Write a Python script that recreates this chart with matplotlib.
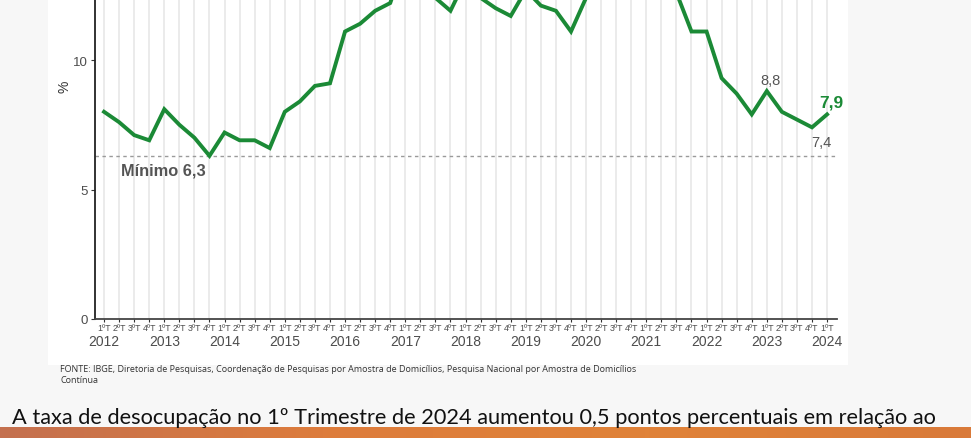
import matplotlib
matplotlib.use("Agg")
import matplotlib.pyplot as plt
import matplotlib.transforms as mtransforms
from matplotlib.colors import LinearSegmentedColormap
import numpy as np

# ---- data ----
years = list(range(2012, 2025))
quarters = ["1ºT", "2ºT", "3ºT", "4ºT"]
rate = [8.0, 7.6, 7.1, 6.9,
        8.1, 7.5, 7.0, 6.3,
        7.2, 6.9, 6.9, 6.6,
        8.0, 8.4, 9.0, 9.1,
        11.1, 11.4, 11.9, 12.2,
        13.9, 13.0, 12.4, 11.9,
        13.1, 12.4, 12.0, 11.7,
        12.7, 12.1, 11.9, 11.1,
        12.4, 13.3, 14.6, 14.2,
        14.9, 14.2, 12.6, 11.1,
        11.1, 9.3, 8.7, 7.9,
        8.8, 8.0, 7.7, 7.4,
        7.9]
yticks = [0, 5, 10]
minimum = 6.3
source = ("FONTE: IBGE, Diretoria de Pesquisas, Coordenação de Pesquisas por Amostra de Domicílios, "
          "Pesquisa Nacional por Amostra de Domicílios\nContínua")
caption = "A taxa de desocupação no 1º Trimestre de 2024 aumentou 0,5 pontos percentuais em relação ao"

n = len(rate)
x = np.arange(n)
qlabels = [quarters[i % 4] for i in range(n)]

W, H = 971, 439
fig = plt.figure(figsize=(W / 100, H / 100), dpi=100)
fig.patch.set_facecolor("#f7f7f7")

# white panel
pax = fig.add_axes([48 / W, (H - 366) / H, 800 / W, 366 / H], zorder=-5)
pax.set_facecolor("white")
pax.set_xticks([]); pax.set_yticks([])
for s in pax.spines.values():
    s.set_visible(False)

# orange strip with gradient
sax = fig.add_axes([0, 0, 1, 11 / H])
sax.axis("off")
grad = np.linspace(0, 1, 256)
cm = LinearSegmentedColormap.from_list("o", ["#c4704f", "#dd7c3c", "#e08238", "#d97a3a"])
sax.imshow(grad[None, :], aspect="auto", cmap=cm, extent=[0, 1, 0, 1])

ymax = 18
bottom_px = 320
px_per = 25.9
top_px = bottom_px - ymax * px_per
ax = fig.add_axes([95 / W, (H - bottom_px) / H, 742 / W, (bottom_px - top_px) / H], zorder=1)
ax.set_facecolor("none")
ax.set_xlim(-0.6, n - 1 + 0.66)
ax.set_ylim(0, ymax)

font = "Liberation Sans"
grey = "#4d4d4d"

for xi in x:
    ax.axvline(xi, color="#e8e8e8", lw=1.2, zorder=1)
ax.axhline(minimum, color="#9a9a9a", lw=1.0, ls=(0, (2.5, 2.5)), zorder=2)
ax.plot(x, rate, color="#1b8a36", lw=2.8, zorder=3, solid_joinstyle="miter")

ax.set_yticks(yticks)
ax.set_yticklabels([str(v) for v in yticks], fontfamily=font, fontsize=9.5, color=grey)
ax.set_xticks(x)
ax.set_xticklabels(qlabels, fontfamily=font, fontsize=6.3, color=grey)
ax.tick_params(axis="x", length=2, pad=1, color="#333333")
ax.tick_params(axis="y", length=3, pad=2, color="#333333")
ax.set_ylabel("%", fontfamily=font, fontsize=10, color="#333333", labelpad=1)

for s in ["top", "right"]:
    ax.spines[s].set_visible(False)
ax.spines["left"].set_linewidth(1.3)
ax.spines["left"].set_color("#222222")
ax.spines["bottom"].set_linewidth(1.3)
ax.spines["bottom"].set_color("#444444")

trans = mtransforms.blended_transform_factory(ax.transData, fig.transFigure)
for i, yr in enumerate(years):
    ax.text(i * 4, (H - 342) / H, str(yr), transform=trans, ha="center", va="center",
            fontfamily=font, fontsize=10, color=grey)

ax.text(1.13, 5.75, "Mínimo 6,3", ha="left", va="center", fontfamily=font,
        fontsize=11.8, fontweight="bold", color="#555555")
ax.text(44.25, 8.8 + 0.42, "8,8", ha="center", va="center", fontfamily=font,
        fontsize=10.5, color="#555555")
ax.text(47.6, 7.4 - 0.57, "7,4", ha="center", va="center", fontfamily=font,
        fontsize=10.5, color="#555555")
ax.text(48.3, 7.9 + 0.48, "7,9", ha="center", va="center", fontfamily=font,
        fontsize=12.5, fontweight="bold", color="#1b8a36")

fig.text(60 / W, (H - 365) / H, source, ha="left", va="top", fontfamily="Open Sans",
         fontsize=6.5, color="#333333", linespacing=1.25)
fig.text(12 / W, (H - 424) / H, caption, ha="left", va="baseline", fontfamily="Lato",
         fontsize=15.7, color="#111111")

fig.savefig("out.png", dpi=100, facecolor=fig.get_facecolor())
